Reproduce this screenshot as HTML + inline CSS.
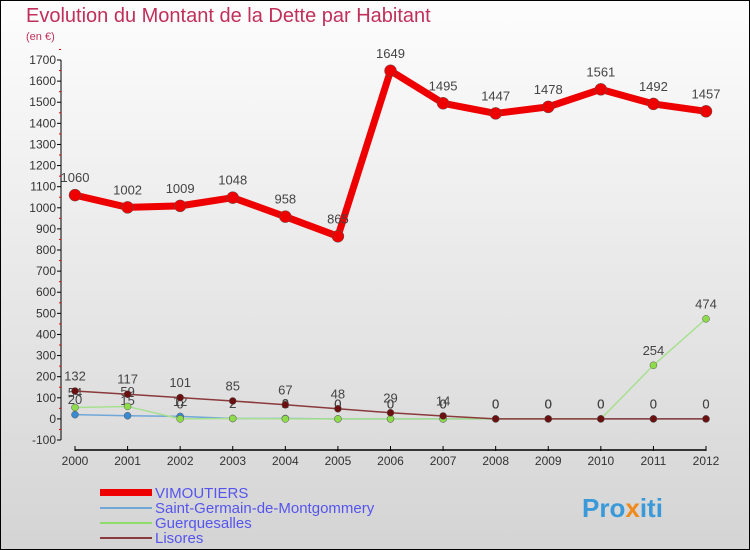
<!DOCTYPE html>
<html><head><meta charset="utf-8"><style>
body{margin:0}
#c{width:750px;height:550px;position:relative;background:linear-gradient(#fdfdfd,#d4d4d4);box-sizing:border-box;border:1px solid #000;font-family:"Liberation Sans",sans-serif}
text{font-family:"Liberation Sans",sans-serif}
</style></head><body>
<div id="c">
<svg id="s" width="750" height="550" style="position:absolute;left:-1px;top:-1px">
<text x="26" y="22" font-size="20" fill="#c0305a">Evolution du Montant de la Dette par Habitant</text>
<text x="26" y="40" font-size="11" fill="#c0305a">(en €)</text>
<g id="axes"></g><g id="series"></g>
<g>
<rect x="100" y="489" width="52" height="7" fill="#e00"/>
<text x="155" y="498" font-size="15" fill="#5555ee">VIMOUTIERS</text>
<line x1="100" y1="508" x2="152" y2="508" stroke="#6fa7d8" stroke-width="2"/>
<text x="155" y="513" font-size="15" fill="#5555ee">Saint-Germain-de-Montgommery</text>
<line x1="100" y1="523" x2="152" y2="523" stroke="#8edc6a" stroke-width="2"/>
<text x="155" y="528" font-size="15" fill="#5555ee">Guerquesalles</text>
<line x1="100" y1="538" x2="152" y2="538" stroke="#8a3a3a" stroke-width="2"/>
<text x="155" y="543" font-size="15" fill="#5555ee">Lisores</text>
</g>
<text x="582" y="517" font-size="26" font-weight="bold" fill="#3a9ad9">Pro<tspan fill="#f08a1a">x</tspan>iti</text>
</svg>
</div>
<script>
const years=[2000,2001,2002,2003,2004,2005,2006,2007,2008,2009,2010,2011,2012];
const vimoutiers=[1060,1002,1009,1048,958,865,1649,1495,1447,1478,1561,1492,1457];
const saintGermain=[20,15,12,2,2,0,0,0,0,0,0,0,0];
const guerquesalles=[54,59,0,2,0,0,0,0,0,0,0,254,474];
const lisores=[132,117,101,85,67,48,29,14,0,0,0,0,0];
const yTicks=[-100,0,100,200,300,400,500,600,700,800,900,1000,1100,1200,1300,1400,1500,1600,1700];
const NS='http://www.w3.org/2000/svg';
const X=i=>75+i*(706-75)/(years.length-1);
const Y=v=>418.9-v*380/1800;
function mk(t,a,p){const e=document.createElementNS(NS,t);for(const k in a)e.setAttribute(k,a[k]);p.appendChild(e);return e;}
const ax=document.getElementById('axes'),sr=document.getElementById('series');
let l=mk('line',{x1:61,y1:Y(1700),x2:61,y2:Y(-100),stroke:'#000'},ax);


yTicks.forEach(v=>{
 mk('line',{x1:57,x2:61,y1:Y(v),y2:Y(v),stroke:'#000'},ax);
 mk('line',{x1:59,x2:61,y1:Y(v+50),y2:Y(v+50),stroke:'#e00'},ax);
 const t=mk('text',{x:56,y:Y(v)+4,'font-size':12,'text-anchor':'end',fill:'#333'},ax);
 t.textContent=v;
 
 
});
l=mk('line',{x1:75,y1:450,x2:706,y2:450,stroke:'#000','stroke-width':1.5},ax);


years.forEach((y,i)=>{
 mk('line',{x1:X(i),x2:X(i),y1:446,y2:451,stroke:'#000'},ax);
 const t=mk('text',{x:X(i),y:465,'font-size':12,'text-anchor':'middle',fill:'#333'},ax);
 t.textContent=y;
 
 
});
function draw(vals,name,color,lw,r,fill,fs){
 const g=mk('g',{},sr);
 
 
 const p=mk('polyline',{points:vals.map((v,i)=>X(i)+','+Y(v)).join(' '),fill:'none',stroke:color,'stroke-width':lw,'stroke-linejoin':'round'},g);
 
 
 vals.forEach((v,i)=>{
  const c=mk('circle',{cx:X(i),cy:Y(v),r:r,fill:fill,stroke:'#555','stroke-width':0.5},g);
  
  
  const t=mk('text',{x:X(i),y:Y(v)-(r+7),'font-size':fs,'text-anchor':'middle',fill:'#444'},g);
  t.textContent=v;
  
  
 });
}
draw(saintGermain,'saint-germain','#6fa7d8',1.5,3.5,'#3a8ad0',13);
draw(guerquesalles,'guerquesalles','#a8e090',1.5,3.5,'#8edc4a',13);
draw(lisores,'lisores','#8a3a3a',1.5,3.5,'#6a1010',13);
draw(vimoutiers,'vimoutiers','#ee0000',7,6,'#ee0000',13);
</script>
</body></html>
